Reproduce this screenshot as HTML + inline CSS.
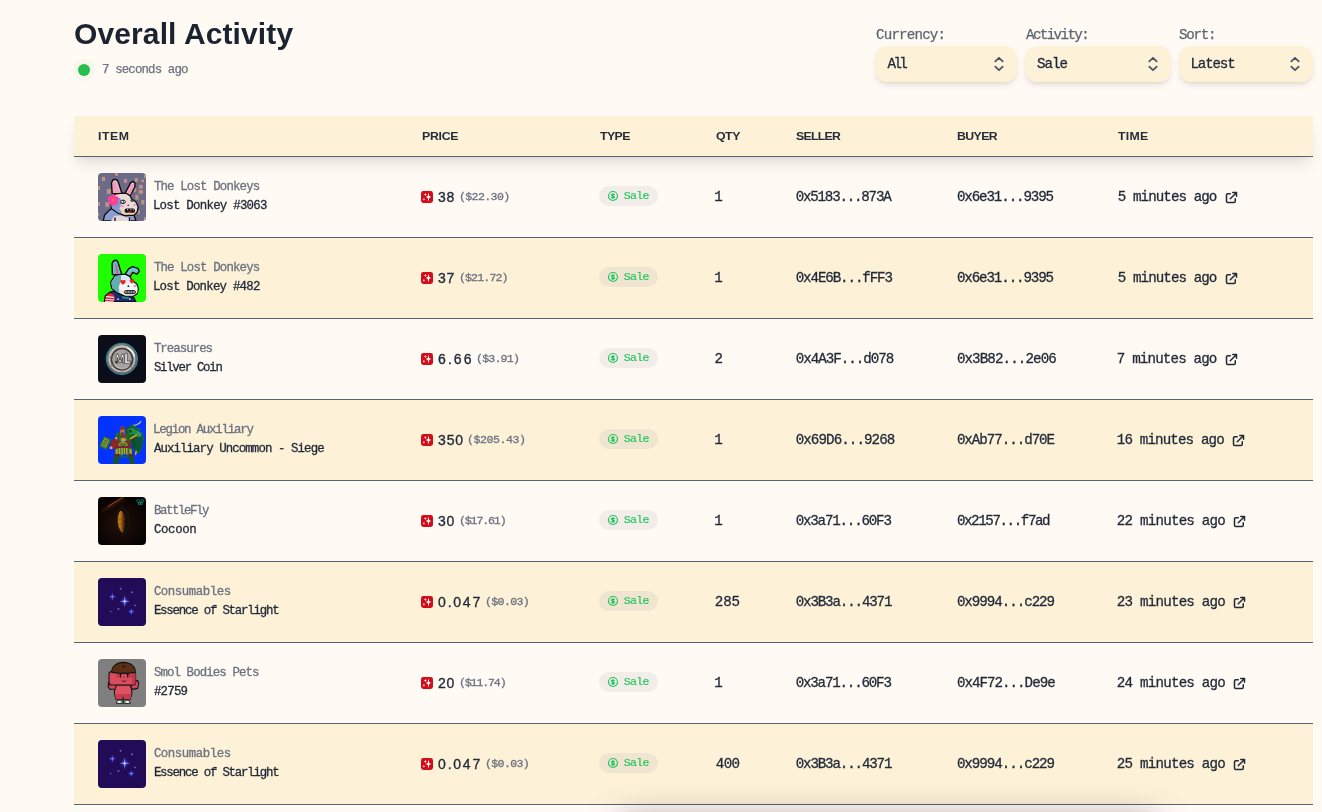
<!DOCTYPE html>
<html lang="en">
<head>
<meta charset="utf-8">
<title>Overall Activity</title>
<style>
*{box-sizing:border-box;margin:0;padding:0}
html,body{width:1322px;height:812px;overflow:hidden;background:#fffaf3;font-family:"Liberation Sans",sans-serif;color:#1f2937}
body{position:relative}
h1,.abs,.sel,.thead,.row{will-change:transform}
.abs{position:absolute;white-space:nowrap}
h1{position:absolute;left:73.6px;top:16.400px;font-size:30px;line-height:36px;font-weight:700;color:#1b2230;letter-spacing:.12px}
.halo{position:absolute;left:73px;top:58.500px;width:22px;height:22px;border-radius:50%;background:rgba(52,190,80,.045)}
.dot{position:absolute;left:78px;top:63.500px;width:12px;height:12px;border-radius:50%;background:#2bbd4c}
.ago{font-family:"Liberation Mono",monospace;font-size:12.400px;line-height:16px;color:#6b7280;-webkit-text-stroke:.25px currentColor}
.lbl{font-family:"Liberation Mono",monospace;font-size:14.200px;line-height:20px;color:#5b6472;-webkit-text-stroke:.25px currentColor}
.sel{position:absolute;top:46px;height:36px;border-radius:12px;background:#fdf1d8;box-shadow:0 4px 6px -1px rgba(0,0,0,.10),0 2px 4px -1px rgba(0,0,0,.06)}
.sel span{position:absolute;font-family:"Liberation Mono",monospace;font-size:14.200px;line-height:20px;color:#1f2937;white-space:nowrap;-webkit-text-stroke:.3px currentColor}
.sel svg{position:absolute;right:8px;top:8px;width:20px;height:20px}
.thead{position:absolute;left:74px;top:116px;width:1239px;height:41px;background:#fdf1d8;border-bottom:1px solid #5a6170;box-shadow:0 10px 15px -3px rgba(0,0,0,.10),0 4px 6px -2px rgba(0,0,0,.05);z-index:2}
.thead span{position:absolute;font-size:11.500px;line-height:16px;font-weight:700;color:#262c38;white-space:nowrap}
.row{position:absolute;left:74px;width:1239px;height:81px;border-bottom:1px solid #5a6170}
.row.alt{background:#fdf1d8}
.row .img{position:absolute;left:24px;top:16px;width:48px;height:48px;border-radius:4px;overflow:hidden}
.row .img svg{display:block;width:48px;height:48px}
.row span{position:absolute;white-space:nowrap;font-family:"Liberation Mono",monospace;-webkit-text-stroke:.3px currentColor}
.col{font-size:12.400px;line-height:16px;color:#6b7280}
.nm{font-size:12.400px;line-height:16px;color:#1f2937}
.tok{position:absolute;left:347px;top:34px;width:12px;height:12px}
.pr{font-family:"Liberation Sans",sans-serif !important;font-size:14px;line-height:20px;color:#1f2937;-webkit-text-stroke:.35px currentColor !important}
.usd{font-size:11.600px;line-height:16px;color:#6b7280}
.badge{position:absolute;left:525px;top:29px;width:59px;height:20px;border-radius:10px;background:rgba(107,114,128,.09)}
.badge svg{position:absolute;left:8px;top:4px;width:12px;height:12px}
.badge span{font-size:11.600px;line-height:16px;color:#22c55e;-webkit-text-stroke:.15px #22c55e}
.q,.s,.b,.t{font-size:14.200px;line-height:20px;color:#1f2937}
.ext{position:absolute;top:32.500px;width:15px;height:15px}
.toast{position:absolute;left:622px;top:825px;width:532px;height:80px;border-radius:12px;background:#fff;box-shadow:0 0 34px 6px rgba(0,0,0,.36);z-index:5}
</style>
</head>
<body>
<h1>Overall Activity</h1>
<div class="halo"></div><div class="dot"></div>
<span class="abs ago" style="left:101.80px;top:61.80px;letter-spacing:-0.852px">7 seconds ago</span>
<span class="abs lbl" style="left:875.90px;top:25.42px;letter-spacing:-0.826px">Currency:</span>
<span class="abs lbl" style="left:1025.70px;top:25.42px;letter-spacing:-1.614px">Activity:</span>
<span class="abs lbl" style="left:1179.30px;top:25.42px;letter-spacing:-1.289px">Sort:</span>
<div class="sel" style="left:875px;width:142px"><span style="left:12.50px;top:8.22px;letter-spacing:-2.614px">All</span><svg viewBox="0 0 20 20" fill="none" stroke="#4b5563" stroke-width="1.800" stroke-linecap="round" stroke-linejoin="round"><path d="M6.300 7.300 10 3.800 13.700 7.300M6.300 12.700 10 16.200 13.700 12.700"/></svg></div>
<div class="sel" style="left:1025px;width:146px"><span style="left:12.10px;top:8.22px;letter-spacing:-1.081px">Sale</span><svg viewBox="0 0 20 20" fill="none" stroke="#4b5563" stroke-width="1.800" stroke-linecap="round" stroke-linejoin="round"><path d="M6.300 7.300 10 3.800 13.700 7.300M6.300 12.700 10 16.200 13.700 12.700"/></svg></div>
<div class="sel" style="left:1179px;width:134px"><span style="left:11.50px;top:8.22px;letter-spacing:-1.174px">Latest</span><svg viewBox="0 0 20 20" fill="none" stroke="#4b5563" stroke-width="1.800" stroke-linecap="round" stroke-linejoin="round"><path d="M6.300 7.300 10 3.800 13.700 7.300M6.300 12.700 10 16.200 13.700 12.700"/></svg></div>
<div class="thead"><span style="left:23.70px;top:12.31px;letter-spacing:0.507px;transform:scaleX(1.07);transform-origin:0 0">ITEM</span><span style="left:347.70px;top:12.31px;letter-spacing:-0.271px;transform:scaleX(1.07);transform-origin:0 0">PRICE</span><span style="left:525.80px;top:12.31px;letter-spacing:-0.527px;transform:scaleX(1.07);transform-origin:0 0">TYPE</span><span style="left:641.60px;top:12.31px;letter-spacing:-0.443px;transform:scaleX(1.07);transform-origin:0 0">QTY</span><span style="left:721.70px;top:12.31px;letter-spacing:-0.670px;transform:scaleX(1.07);transform-origin:0 0">SELLER</span><span style="left:883.00px;top:12.31px;letter-spacing:-0.541px;transform:scaleX(1.07);transform-origin:0 0">BUYER</span><span style="left:1043.70px;top:12.31px;letter-spacing:0.235px;transform:scaleX(1.07);transform-origin:0 0">TIME</span></div>

<div class="row" style="top:157px">
<div class="img"><svg viewBox="0 0 48 48"><rect width="48" height="48" fill="#6c6c88"/>
<g fill="#c29183"><rect x="3.9" y="3.9" width="3.1" height="4.1"/><rect x="17" y="0" width="3.1" height="2.8"/><rect x="26" y="6" width="3.1" height="3.8"/><rect x="36.7" y="5" width="3.1" height="3.8"/><rect x="43.2" y="6.7" width="2.8" height="2.4"/><rect x="40.8" y="11.9" width="4.1" height="3.8"/><rect x="40.8" y="17" width="4.1" height="3.8"/><rect x="8.8" y="16" width="4.1" height="4.8"/><rect x="37.4" y="21.9" width="3.1" height="4.8"/><rect x="43.2" y="27" width="3.1" height="4.5"/><rect x="7.4" y="29.1" width="3.8" height="4.8"/><rect x="0" y="12.9" width="2" height="4.1"/><rect x="0" y="29.1" width="2" height="3.8"/><rect x="35.7" y="15" width="2.4" height="3.8"/><rect x="39.1" y="37.4" width="2.8" height="3.4"/><rect x="46" y="2" width="2" height="3"/><rect x="46" y="44" width="2" height="3"/><rect x="0" y="40" width="1.2" height="3"/></g>
<path d="M14.2 20.6 13.5 9.600 15 6.800 18.200 6.400 20 8.200 24 20.600Z" fill="#ecb9cd" stroke="#0d0d0d" stroke-width="1.4" stroke-linejoin="round"/>
<path d="M15.600 19.600 15 9.800 17.800 8.800 21.600 19.800Z" fill="#f49cbc"/>
<path d="M27 20.400 32.600 9.800 35 8.400 37 10 36.800 14 32 23Z" fill="#ecb9cd" stroke="#0d0d0d" stroke-width="1.4" stroke-linejoin="round"/>
<path d="M29 20.400 33.400 10.800 35.600 11.400 32.600 21.600Z" fill="#f49cbc"/>
<path d="M5.2 48 6.6 42 12 36.6 14 35.5 20 40 27 42.5 36 42 38 48Z" fill="#8a9fd0" stroke="#0d0d0d" stroke-width="1.300" stroke-linejoin="round"/>
<path d="M13 48 16 43 22 42.5 30 44.5 33 48Z" fill="#e6d5d8"/>
<path d="M17 48v-3.5M31.5 48v-3.5" stroke="#0d0d0d" stroke-width="1.3"/>
<path d="M17 21.2 24 20.2 28 20.3 32 22.6 33.5 26 38 29 40.2 34 39.2 39 36 42 27 42.6 20 40 13.6 35.6 12.6 30Z" fill="#ecdad8" stroke="#0d0d0d" stroke-width="1.3" stroke-linejoin="round"/>
<path d="M13.6 28 22 24.5 24 30 21.4 35.5 24.5 40.4 20 39.6 14 35.2 13 30Z" fill="#809bcd"/>
<path d="M21.4 35.5 26 41 35.8 41.4 38.6 38.6 30 39.6Z" fill="#f3cfae"/>
<ellipse cx="25" cy="28.8" rx="2.3" ry="1.7" fill="#fff" stroke="#0d0d0d" stroke-width="1"/><circle cx="25.4" cy="28.9" r=".7" fill="#0d0d0d"/>
<path d="M32.5 27.6 35 28.6" stroke="#0d0d0d" stroke-width="1.1"/>
<circle cx="30.2" cy="32.2" r=".8" fill="#222"/><circle cx="36.3" cy="32" r=".7" fill="#6b7fae"/>
<ellipse cx="23.8" cy="33.2" rx="2.1" ry="1.1" fill="#f59ac8"/><ellipse cx="37.4" cy="31" rx="1" ry=".8" fill="#f59ac8"/>
<rect x="26.600" y="35.600" width="10.400" height="4.200" rx="1.900" fill="#101010"/><rect x="29.800" y="38.400" width="4" height="1.300" rx=".6" fill="#d4333a"/><path d="M29 36.200h1.200v1h-1.200zM32.400 36.200h1.200v1h-1.200zM35 36.400h1v.9h-1z" fill="#e9e4df"/>
<g fill="#ff3d9b"><circle cx="15.2" cy="27" r="3.4"/><circle cx="15.2" cy="23.6" r="2.3"/><circle cx="15.2" cy="30.4" r="2.3"/><circle cx="11.9" cy="25.6" r="2.3"/><circle cx="18.5" cy="25.6" r="2.3"/><circle cx="12.6" cy="29.4" r="2.3"/><circle cx="17.8" cy="29.4" r="2.3"/></g>
<circle cx="15" cy="26.9" r="1.1" fill="#f7931e"/></svg></div>
<span class="col" style="left:79.90px;top:21.80px;letter-spacing:-0.842px">The Lost Donkeys</span>
<span class="nm" style="left:78.90px;top:41.10px;letter-spacing:-0.742px">Lost Donkey #3063</span>
<svg class="tok" viewBox="0 0 12 12"><rect width="12" height="12" rx="2.400" fill="#d20c1a"/><path d="M7.450 1.600 8.150 4.950 10.100 6 8.150 7.050 7.450 10.400 6.750 7.050 4.800 6 6.750 4.950Z" fill="#fff"/><path d="M4.350 2.100 4.800 3.050 5.750 3.500 4.800 3.950 4.350 4.900 3.900 3.950 2.950 3.500 3.900 3.050Z" fill="#fff"/><path d="M2.900 6.900 3.350 7.850 4.300 8.300 3.350 8.750 2.900 9.700 2.450 8.750 1.500 8.300 2.450 7.850Z" fill="#fff" opacity=".85"/></svg>
<span class="pr" style="left:364.10px;top:29.95px;letter-spacing:0.514px">38</span>
<span class="usd" style="left:384.90px;top:32.01px;letter-spacing:-0.615px">($22.30)</span>
<div class="badge"><svg viewBox="0 0 24 24" fill="none" stroke="#22c55e" stroke-width="2.300" stroke-linecap="round" stroke-linejoin="round"><path d="M12 8c-1.657 0-3 .895-3 2s1.343 2 3 2 3 .895 3 2-1.343 2-3 2m0-8c1.110 0 2.080.402 2.599 1M12 8V7m0 1v8m0 0v1m0-1c-1.110 0-2.080-.402-2.599-1M21 12a9 9 0 11-18 0 9 9 0 0118 0z"/></svg><span style="left:24.80px;top:1.91px;letter-spacing:-0.724px">Sale</span></div>
<span class="q" style="left:640.30px;top:30.22px;letter-spacing:0.000px">1</span>
<span class="s" style="left:721.70px;top:30.22px;letter-spacing:-1.222px">0x5183...873A</span>
<span class="b" style="left:882.90px;top:30.22px;letter-spacing:-1.122px">0x6e31...9395</span>
<span class="t" style="left:1043.80px;top:30.22px;letter-spacing:-0.931px">5 minutes ago</span>
<svg class="ext" style="left:1149.8px" viewBox="0 0 24 24" fill="none" stroke="#1f2937" stroke-width="2.400" stroke-linecap="round" stroke-linejoin="round"><path d="M10 6H6a2 2 0 00-2 2v10a2 2 0 002 2h10a2 2 0 002-2v-4M14 4h6m0 0v6m0-6L10 14"/></svg>
</div>
<div class="row alt" style="top:238px">
<div class="img"><svg viewBox="0 0 48 48"><rect width="48" height="48" fill="#1eff00"/>
<path d="M14.4 20.6 14.1 9.4 15.6 6.8 18.4 6.3 19.8 7.8 23.8 20.6Z" fill="#63bccb" stroke="#0d0d0d" stroke-width="1.4" stroke-linejoin="round"/>
<path d="M17.3 10.4 18.4 10 20.6 20 18.6 20.4Z" fill="#e2566c"/>
<path d="M27 20.4 30.5 14.8 34.6 12.7 40 14.3 41.3 17.4 38.8 20.2 34.8 18.3 32 22.6Z" fill="#6ec4d1" stroke="#0d0d0d" stroke-width="1.4" stroke-linejoin="round"/>
<path d="M31 20.8 32.9 18 33.8 18.6 32 21.8Z" fill="#e2566c"/>
<path d="M6.4 48 7.2 42 11.5 38.4 16 36.8 27 42.4 35.5 43 38 48Z" fill="#1c2b6e" stroke="#0d0d0d" stroke-width="1.3" stroke-linejoin="round"/>
<path d="M6.8 48 7.6 42.2 11.6 39 15.6 40.6 17 44 15.4 48Z" fill="#e5243c"/>
<path d="M8 42.6 16 43.4M7.4 45.2 16.4 46M7.2 47.6 15.6 48" stroke="#f6e9ee" stroke-width="1.1"/>
<path d="M24 42 31 42.6 30.5 45 24.5 44.4Z" fill="#2c8c8a"/><circle cx="20" cy="45.2" r=".9" fill="#d9d9d9"/><circle cx="31.8" cy="45" r=".9" fill="#d9d9d9"/>
<path d="M17 21.4 24 20.3 28 20.4 32 22.6 34.4 26.8 39 30 40.3 35 39 40 35 42.2 27 42.2 20 39.2 13.6 34.2 12.7 28Z" fill="#d3edf2" stroke="#0d0d0d" stroke-width="1.3" stroke-linejoin="round"/>
<path d="M13.4 28.4 17.4 22 23 21.4 23 27 20.6 33 21.6 38.8 19.8 38.6 14.2 34.2Z" fill="#62aeb2"/>
<path d="M21.4 31 27 29.6 36 30 39.4 33 39.4 38.6 35 41.4 27 41.4 21.8 38.6Z" fill="#f6f6f6"/>
<path d="M21 35.6 26 40 36 40.2 38.8 38 30 39.2Z" fill="#f1cdb1"/>
<path d="M22.4 27.4c0-1.8 2.4-1.8 2.6-.4.2-1.4 2.6-1.4 2.6.4 0 1.600-2.600 3.200-2.600 3.200s-2.600-1.600-2.600-3.200z" fill="#ff1c1c"/>
<path d="M31.600 26.600c0-1.700 2.200-1.700 2.400-.4.200-1.300 2.400-1.300 2.400.4 0 1.500-2.400 3-2.400 3s-2.400-1.500-2.400-3z" fill="#ff1c1c"/>
<circle cx="30.400" cy="32.200" r=".9" fill="#222"/><circle cx="36.800" cy="32" r=".9" fill="#fff" stroke="#333" stroke-width=".4"/>
<rect x="26.600" y="36.600" width="10.800" height="3" rx="1.200" fill="#9a9a9a" stroke="#101010" stroke-width=".9"/>
<path d="M29.400 36.800v2.600M32 36.800v2.600M34.600 36.800v2.600" stroke="#101010" stroke-width=".6"/></svg></div>
<span class="col" style="left:79.90px;top:21.80px;letter-spacing:-0.842px">The Lost Donkeys</span>
<span class="nm" style="left:78.90px;top:41.10px;letter-spacing:-0.769px">Lost Donkey #482</span>
<svg class="tok" viewBox="0 0 12 12"><rect width="12" height="12" rx="2.400" fill="#d20c1a"/><path d="M7.450 1.600 8.150 4.950 10.100 6 8.150 7.050 7.450 10.400 6.750 7.050 4.800 6 6.750 4.950Z" fill="#fff"/><path d="M4.350 2.100 4.800 3.050 5.750 3.500 4.800 3.950 4.350 4.900 3.900 3.950 2.950 3.500 3.900 3.050Z" fill="#fff"/><path d="M2.900 6.900 3.350 7.850 4.300 8.300 3.350 8.750 2.900 9.700 2.450 8.750 1.500 8.300 2.450 7.850Z" fill="#fff" opacity=".85"/></svg>
<span class="pr" style="left:364.10px;top:29.95px;letter-spacing:0.514px">37</span>
<span class="usd" style="left:384.90px;top:32.01px;letter-spacing:-0.857px">($21.72)</span>
<div class="badge"><svg viewBox="0 0 24 24" fill="none" stroke="#22c55e" stroke-width="2.300" stroke-linecap="round" stroke-linejoin="round"><path d="M12 8c-1.657 0-3 .895-3 2s1.343 2 3 2 3 .895 3 2-1.343 2-3 2m0-8c1.110 0 2.080.402 2.599 1M12 8V7m0 1v8m0 0v1m0-1c-1.110 0-2.080-.402-2.599-1M21 12a9 9 0 11-18 0 9 9 0 0118 0z"/></svg><span style="left:24.80px;top:1.91px;letter-spacing:-0.724px">Sale</span></div>
<span class="q" style="left:640.30px;top:30.22px;letter-spacing:0.000px">1</span>
<span class="s" style="left:721.70px;top:30.22px;letter-spacing:-1.114px">0x4E6B...fFF3</span>
<span class="b" style="left:882.90px;top:30.22px;letter-spacing:-1.122px">0x6e31...9395</span>
<span class="t" style="left:1043.80px;top:30.22px;letter-spacing:-0.931px">5 minutes ago</span>
<svg class="ext" style="left:1149.8px" viewBox="0 0 24 24" fill="none" stroke="#1f2937" stroke-width="2.400" stroke-linecap="round" stroke-linejoin="round"><path d="M10 6H6a2 2 0 00-2 2v10a2 2 0 002 2h10a2 2 0 002-2v-4M14 4h6m0 0v6m0-6L10 14"/></svg>
</div>
<div class="row" style="top:319px">
<div class="img"><svg viewBox="0 0 48 48"><defs><radialGradient id="cg" cx=".42" cy=".38" r=".75"><stop offset="0" stop-color="#d6d5d4"/><stop offset=".55" stop-color="#aaa6a3"/><stop offset="1" stop-color="#7b7571"/></radialGradient></defs>
<rect width="48" height="48" fill="#0b0e19"/>
<circle cx="23.900" cy="23.900" r="16.100" fill="#103040"/><circle cx="23.900" cy="23.900" r="15.700" fill="none" stroke="#2f9cba" stroke-width=".9"/>
<circle cx="23.900" cy="23.900" r="14.800" fill="url(#cg)"/>
<circle cx="23.900" cy="23.900" r="14.300" fill="none" stroke="#6f6762" stroke-width=".9"/>
<circle cx="23.900" cy="23.900" r="12.600" fill="none" stroke="#c9c4c0" stroke-width="1.100"/>
<circle cx="24" cy="24.200" r="10.600" fill="#a5a2a0" stroke="#3f3b39" stroke-width="1.500"/><path d="M15 27a9.600 9.600 0 0 0 17 3.600A12 12 0 0 1 15 27Z" fill="#c4c1bf" opacity=".7"/>
<path d="M29 12.600A12.600 12.600 0 0 1 36.300 21.600" fill="none" stroke="#fafafa" stroke-width="1.500"/>
<path d="M11.400 22.400 15.200 21.600M23.900 34.900v3.400M12.600 30.400l3-1.500M33 31.600l2.200 2" stroke="#6b625e" stroke-width=".9"/>
<path d="M18.200 19.400 20 19 22 25.400 24 19 25.900 19.400 26 28 24.500 28 24.400 22.400 22.700 27.600 21.300 27.600 19.500 22.400 19.600 28 18 28Z" fill="#f3f3f3" stroke="#2e2b2a" stroke-width=".7" stroke-linejoin="round"/>
<path d="M26.800 18.400 29.200 18.200 29.200 26.200 32.600 26 32.600 28.200 26.800 28.400Z" fill="#f6f6f6" stroke="#2e2b2a" stroke-width=".7" stroke-linejoin="round"/>
<rect x="17.300" y="25.900" width="2.300" height="2.300" transform="rotate(45 18.450 27.050)" fill="#3e3a38"/></svg></div>
<span class="col" style="left:79.90px;top:21.80px;letter-spacing:-0.973px">Treasures</span>
<span class="nm" style="left:79.90px;top:41.10px;letter-spacing:-1.286px">Silver Coin</span>
<svg class="tok" viewBox="0 0 12 12"><rect width="12" height="12" rx="2.400" fill="#d20c1a"/><path d="M7.450 1.600 8.150 4.950 10.100 6 8.150 7.050 7.450 10.400 6.750 7.050 4.800 6 6.750 4.950Z" fill="#fff"/><path d="M4.350 2.100 4.800 3.050 5.750 3.500 4.800 3.950 4.350 4.900 3.900 3.950 2.950 3.500 3.900 3.050Z" fill="#fff"/><path d="M2.900 6.900 3.350 7.850 4.300 8.300 3.350 8.750 2.900 9.700 2.450 8.750 1.500 8.300 2.450 7.850Z" fill="#fff" opacity=".85"/></svg>
<span class="pr" style="left:364.10px;top:29.95px;letter-spacing:2.046px">6.66</span>
<span class="usd" style="left:402.00px;top:32.01px;letter-spacing:-0.807px">($3.91)</span>
<div class="badge"><svg viewBox="0 0 24 24" fill="none" stroke="#22c55e" stroke-width="2.300" stroke-linecap="round" stroke-linejoin="round"><path d="M12 8c-1.657 0-3 .895-3 2s1.343 2 3 2 3 .895 3 2-1.343 2-3 2m0-8c1.110 0 2.080.402 2.599 1M12 8V7m0 1v8m0 0v1m0-1c-1.110 0-2.080-.402-2.599-1M21 12a9 9 0 11-18 0 9 9 0 0118 0z"/></svg><span style="left:24.80px;top:1.91px;letter-spacing:-0.724px">Sale</span></div>
<span class="q" style="left:640.50px;top:30.22px;letter-spacing:0.000px">2</span>
<span class="s" style="left:721.70px;top:30.22px;letter-spacing:-1.014px">0x4A3F...d078</span>
<span class="b" style="left:882.90px;top:30.22px;letter-spacing:-0.897px">0x3B82...2e06</span>
<span class="t" style="left:1042.80px;top:30.22px;letter-spacing:-0.847px">7 minutes ago</span>
<svg class="ext" style="left:1149.8px" viewBox="0 0 24 24" fill="none" stroke="#1f2937" stroke-width="2.400" stroke-linecap="round" stroke-linejoin="round"><path d="M10 6H6a2 2 0 00-2 2v10a2 2 0 002 2h10a2 2 0 002-2v-4M14 4h6m0 0v6m0-6L10 14"/></svg>
</div>
<div class="row alt" style="top:400px">
<div class="img"><svg viewBox="0 0 48 48"><rect width="48" height="48" fill="#0433ff"/>
<path d="M36 9.400C39 8.800 41.600 7.600 42.900 5.400" fill="none" stroke="#c9b98c" stroke-width="1.100" stroke-linecap="round"/>
<path d="M33 9.600 34.400 7.400 35.600 10.400 38.400 9.600 38.600 12.600 42.400 12.600 42 15.600 45.600 17.400 44 19.600 46.600 22.600 44.800 24Z" fill="#1a7439"/>
<path d="M28 12.400 33 9.600 36.400 11 41 14.600 44.800 19 45.400 26 44 32 41.800 36.400 39.600 38.200 37 36.600 34.400 30 31 24 28 20Z" fill="#14602c"/>
<path d="M30.400 13 34.800 11.800 39 15 42 19.600 41 22 36 18 31 18.600Z" fill="#238a49"/>
<path d="M37.600 14.600 41.800 16 43.600 19.400 42.600 21 39.600 17.600Z" fill="#2a9a86"/>
<path d="M38 22 42.800 21 44 27 42.600 32 40 35 38 30Z" fill="#0b5040"/>
<path d="M33 22 36 21 38 28 37 34 35 31Z" fill="#0d4a22"/>
<path d="M31 14.600 33 13.600 33.600 16 32 17Z" fill="#0a3a1a"/>
<path d="M27.600 18 31 22.400 38.600 18 39.600 19.200 31.400 24.400 27 20Z" fill="#c9a51e"/>
<path d="M38.200 35.400 37.600 38.400" stroke="#e0a23c" stroke-width="1.500" stroke-linecap="round"/>
<path d="M6.300 20 13.300 23.600 8.400 34 1.300 30.400Z" fill="#256f27"/><path d="M6.900 22.200 10.900 24.300 7.700 31.300 3.500 29.300Z" fill="#2f8a30" stroke="#b8952a" stroke-width="1"/>
<path d="M8.400 25.200 6.400 29.200" stroke="#b8952a" stroke-width=".9"/>
<path d="M12.800 27.400 17.400 21.600" stroke="#6b4220" stroke-width="1.300"/>
<path d="M17 18 21.400 16 22.600 21 19 24Z" fill="#1c6e28"/>
<path d="M13 26 17.600 22.600 20 26 18.600 32 14 33.400 12.400 30Z" fill="#8f2420"/><circle cx="13" cy="31.800" r="1.500" fill="#d6a37c"/>
<path d="M18 22 21.400 24.400" stroke="#d9b18c" stroke-width="1.800" stroke-linecap="round"/>
<path d="M20.400 19.600 24 18 29.400 19.200 33 24 32 31 19.400 31 18.400 25Z" fill="#7e2b24"/>
<path d="M21 20 24 18.600 24.600 24 21.600 26 20 24Z" fill="#236f2a"/><path d="M27.600 19 30.600 20.600 32.400 24 30 26 27.400 23Z" fill="#236f2a"/>
<path d="M22.600 22.400 26.600 21.600 28.600 24 26 26 23 25.400Z" fill="#c98f6c"/>
<circle cx="25.600" cy="25.400" r="1" fill="#2aa7a0"/>
<ellipse cx="25" cy="28.600" rx="4.400" ry="1.900" fill="#27802a" stroke="#c9a51e" stroke-width="1"/>
<rect x="18.800" y="30" width="14.400" height="1.800" fill="#8f1f1f"/>
<path d="M22.400 11 25.600 10.600 27 13 26.600 18.400 24.400 20 22.400 18.400 21.800 14Z" fill="#b36f4c"/>
<path d="M22 11.600 24.400 10.400 27 11.400 27 14 24.400 13.200 22.200 14.400Z" fill="#7e3314"/>
<path d="M23 16.400 26 16.400 25.600 19.200 24.300 20 23.200 19Z" fill="#74321a"/>
<path d="M17.600 32 33.800 32 34.200 38.200 30 39 27 37.600 24 39.400 20 38 17 38.600Z" fill="#266e27"/>
<path d="M21.600 32v6M24 32v7M26.400 32v6M28.800 32v6.400" stroke="#bfa640" stroke-width="1.400"/>
<path d="M17.400 33.600 20 32.400 20.600 37.400 17.600 38.200ZM31.400 32.400 33.800 33.600 34 38 31.200 37.400Z" fill="#b8952a"/>
<path d="M15.800 38.400 21 38 21.400 42 20.600 47.400 14.400 47.600 15.800 44ZM30.600 38 35.200 38.600 36.800 47.600 31.400 47.600 31 42Z" fill="#18541f"/>
<path d="M16.400 38.800 20.600 38.400 20.400 40.400 16.600 40.600ZM30.800 38.600 34.800 39 35 40.800 31 40.600Z" fill="#7e1c1c"/>
<path d="M22 39 24 41.600 27 39.600 29.600 41 30 38.600" fill="none" stroke="#1f6a25" stroke-width="1.200"/></svg></div>
<span class="col" style="left:78.90px;top:21.80px;letter-spacing:-1.189px">Legion Auxiliary</span>
<span class="nm" style="left:79.90px;top:41.10px;letter-spacing:-0.904px">Auxiliary Uncommon - Siege</span>
<svg class="tok" viewBox="0 0 12 12"><rect width="12" height="12" rx="2.400" fill="#d20c1a"/><path d="M7.450 1.600 8.150 4.950 10.100 6 8.150 7.050 7.450 10.400 6.750 7.050 4.800 6 6.750 4.950Z" fill="#fff"/><path d="M4.350 2.100 4.800 3.050 5.750 3.500 4.800 3.950 4.350 4.900 3.900 3.950 2.950 3.500 3.900 3.050Z" fill="#fff"/><path d="M2.900 6.900 3.350 7.850 4.300 8.300 3.350 8.750 2.900 9.700 2.450 8.750 1.500 8.300 2.450 7.850Z" fill="#fff" opacity=".85"/></svg>
<span class="pr" style="left:364.10px;top:29.95px;letter-spacing:0.814px">350</span>
<span class="usd" style="left:392.90px;top:32.01px;letter-spacing:-0.445px">($205.43)</span>
<div class="badge"><svg viewBox="0 0 24 24" fill="none" stroke="#22c55e" stroke-width="2.300" stroke-linecap="round" stroke-linejoin="round"><path d="M12 8c-1.657 0-3 .895-3 2s1.343 2 3 2 3 .895 3 2-1.343 2-3 2m0-8c1.110 0 2.080.402 2.599 1M12 8V7m0 1v8m0 0v1m0-1c-1.110 0-2.080-.402-2.599-1M21 12a9 9 0 11-18 0 9 9 0 0118 0z"/></svg><span style="left:24.80px;top:1.91px;letter-spacing:-0.724px">Sale</span></div>
<span class="q" style="left:640.30px;top:30.22px;letter-spacing:0.000px">1</span>
<span class="s" style="left:721.70px;top:30.22px;letter-spacing:-0.922px">0x69D6...9268</span>
<span class="b" style="left:882.90px;top:30.22px;letter-spacing:-1.039px">0xAb77...d70E</span>
<span class="t" style="left:1042.80px;top:30.22px;letter-spacing:-0.868px">16 minutes ago</span>
<svg class="ext" style="left:1157.2px" viewBox="0 0 24 24" fill="none" stroke="#1f2937" stroke-width="2.400" stroke-linecap="round" stroke-linejoin="round"><path d="M10 6H6a2 2 0 00-2 2v10a2 2 0 002 2h10a2 2 0 002-2v-4M14 4h6m0 0v6m0-6L10 14"/></svg>
</div>
<div class="row" style="top:481px">
<div class="img"><svg viewBox="0 0 48 48"><defs><radialGradient id="cb" cx=".46" cy=".55" r=".62"><stop offset="0" stop-color="#241007"/><stop offset=".55" stop-color="#130805"/><stop offset="1" stop-color="#050303"/></radialGradient>
<linearGradient id="cc" x1="0" y1="0" x2="1" y2="0"><stop offset="0" stop-color="#a8661c"/><stop offset=".35" stop-color="#c27a20"/><stop offset=".6" stop-color="#8a4c12"/><stop offset="1" stop-color="#2e1605"/></linearGradient>
<filter id="cf" x="-20%" y="-20%" width="140%" height="140%"><feGaussianBlur stdDeviation=".55"/></filter></defs>
<rect width="48" height="48" fill="url(#cb)"/>
<path d="M26 -1 6 11 3 16 14 11 27 3Z" fill="#3a1a0a" opacity=".55" filter="url(#cf)"/><g filter="url(#cf)"><path d="M24.600 .6 10 9.400" stroke="#a3481a" stroke-width="1.200" stroke-linecap="round" opacity=".8"/><path d="M10 9.400 3 13.200" stroke="#2e1b0e" stroke-width="1.200" opacity=".7"/>
<path d="M24.200 1 24 11" stroke="#26140a" stroke-width=".7"/>
<g transform="translate(24 24.600) scale(1.220 1.100) translate(-24 -25)"><path d="M24 12C27.600 13.800 29.800 18.400 29.600 25 29.400 31.600 27.400 36.400 25.300 38.200 21.800 35.600 19 30 19 23.800 19 18.200 21.200 13.800 24 12Z" fill="#120f09" stroke="#1f1d0d" stroke-width=".5"/>
<path d="M23 15C25.400 16.400 26.600 20 26.400 24.600 26.200 30 25.400 34 24.400 35.400 22.200 33 20.400 29 20.400 24 20.400 19.400 21.400 16.400 23 15Z" fill="url(#cc)"/>
<path d="M20.600 22.600h5.800M20.900 27.400h5.300M22 31.800h3.600" stroke="#7a3f10" stroke-width=".5" opacity=".8"/></g></g>
<g fill="none" stroke="#178f80" stroke-width=".9" filter="url(#cf)"><path d="M42.200 4.400c-1-2.300-3.800-2.300-3 0 .4 1.300 2.100 1.100 3 .9.700 1.400-.2 2.600-1.600 2.300-1-.4-.7-1.800 1.600-2.300M42.400 4.400c1-2.300 3.800-2.300 3 0-.4 1.300-2.100 1.100-3 .9-.7 1.400.2 2.600 1.600 2.300 1-.4.700-1.800-1.600-2.300"/></g></svg></div>
<span class="col" style="left:79.90px;top:21.80px;letter-spacing:-1.436px">BattleFly</span>
<span class="nm" style="left:79.90px;top:41.10px;letter-spacing:-0.356px">Cocoon</span>
<svg class="tok" viewBox="0 0 12 12"><rect width="12" height="12" rx="2.400" fill="#d20c1a"/><path d="M7.450 1.600 8.150 4.950 10.100 6 8.150 7.050 7.450 10.400 6.750 7.050 4.800 6 6.750 4.950Z" fill="#fff"/><path d="M4.350 2.100 4.800 3.050 5.750 3.500 4.800 3.950 4.350 4.900 3.900 3.950 2.950 3.500 3.900 3.050Z" fill="#fff"/><path d="M2.900 6.900 3.350 7.850 4.300 8.300 3.350 8.750 2.900 9.700 2.450 8.750 1.500 8.300 2.450 7.850Z" fill="#fff" opacity=".85"/></svg>
<span class="pr" style="left:364.10px;top:29.95px;letter-spacing:0.514px">30</span>
<span class="usd" style="left:384.90px;top:32.01px;letter-spacing:-1.129px">($17.61)</span>
<div class="badge"><svg viewBox="0 0 24 24" fill="none" stroke="#22c55e" stroke-width="2.300" stroke-linecap="round" stroke-linejoin="round"><path d="M12 8c-1.657 0-3 .895-3 2s1.343 2 3 2 3 .895 3 2-1.343 2-3 2m0-8c1.110 0 2.080.402 2.599 1M12 8V7m0 1v8m0 0v1m0-1c-1.110 0-2.080-.402-2.599-1M21 12a9 9 0 11-18 0 9 9 0 0118 0z"/></svg><span style="left:24.80px;top:1.91px;letter-spacing:-0.724px">Sale</span></div>
<span class="q" style="left:640.30px;top:30.22px;letter-spacing:0.000px">1</span>
<span class="s" style="left:721.70px;top:30.22px;letter-spacing:-1.206px">0x3a71...60F3</span>
<span class="b" style="left:882.90px;top:30.22px;letter-spacing:-1.414px">0x2157...f7ad</span>
<span class="t" style="left:1042.80px;top:30.22px;letter-spacing:-0.783px">22 minutes ago</span>
<svg class="ext" style="left:1158.3px" viewBox="0 0 24 24" fill="none" stroke="#1f2937" stroke-width="2.400" stroke-linecap="round" stroke-linejoin="round"><path d="M10 6H6a2 2 0 00-2 2v10a2 2 0 002 2h10a2 2 0 002-2v-4M14 4h6m0 0v6m0-6L10 14"/></svg>
</div>
<div class="row alt" style="top:562px">
<div class="img"><svg viewBox="0 0 48 48"><defs><radialGradient id="ga"><stop offset="0" stop-color="#5a7dff" stop-opacity=".9"/><stop offset=".5" stop-color="#3a3ad6" stop-opacity=".45"/><stop offset="1" stop-color="#2a149a" stop-opacity="0"/></radialGradient></defs>
<rect width="48" height="48" fill="#220b57"/>
<circle cx="26.700" cy="23.300" r="5.200" fill="url(#ga)"/><circle cx="14.400" cy="18.800" r="3.800" fill="url(#ga)" opacity=".8"/><circle cx="33.300" cy="33.600" r="3.600" fill="url(#ga)"/>
<path d="M26.7 16.9 L27.53 22.28 L31.9 23.3 L27.53 24.32 L26.7 29.700000000000003 L25.87 24.32 L21.5 23.3 L25.87 22.28Z" fill="#7f8ff5" opacity="0.8"/><path d="M26.7 20.900000000000002 L27.00 22.92 L28.599999999999998 23.3 L27.00 23.68 L26.7 25.7 L26.40 23.68 L24.8 23.3 L26.40 22.92Z" fill="#f4f6ff" opacity="1"/><path d="M14.4 14.200000000000001 L15.01 18.06 L18.2 18.8 L15.01 19.54 L14.4 23.4 L13.79 19.54 L10.600000000000001 18.8 L13.79 18.06Z" fill="#5f64d8" opacity="0.8"/><path d="M14.4 17.400000000000002 L14.59 18.58 L15.6 18.8 L14.59 19.02 L14.4 20.2 L14.21 19.02 L13.200000000000001 18.8 L14.21 18.58Z" fill="#aab6ff" opacity="1"/><path d="M33.3 30.200000000000003 L33.81 33.06 L36.5 33.6 L33.81 34.14 L33.3 37.0 L32.79 34.14 L30.099999999999998 33.6 L32.79 33.06Z" fill="#456af0" opacity="0.9"/><path d="M33.3 32.4 L33.48 33.41 L34.4 33.6 L33.48 33.79 L33.3 34.800000000000004 L33.12 33.79 L32.199999999999996 33.6 L33.12 33.41Z" fill="#c4d0ff" opacity="1"/>
<g fill="#7d55c4"><circle cx="22.600" cy="10.700" r="1"/><circle cx="34.100" cy="14.300" r="1"/><circle cx="37" cy="27.400" r=".9"/><circle cx="20.400" cy="31" r="1.100"/><circle cx="12.800" cy="33.600" r=".8"/></g></svg></div>
<span class="col" style="left:79.90px;top:21.80px;letter-spacing:-0.456px">Consumables</span>
<span class="nm" style="left:79.90px;top:41.10px;letter-spacing:-1.209px">Essence of Starlight</span>
<svg class="tok" viewBox="0 0 12 12"><rect width="12" height="12" rx="2.400" fill="#d20c1a"/><path d="M7.450 1.600 8.150 4.950 10.100 6 8.150 7.050 7.450 10.400 6.750 7.050 4.800 6 6.750 4.950Z" fill="#fff"/><path d="M4.350 2.100 4.800 3.050 5.750 3.500 4.800 3.950 4.350 4.900 3.900 3.950 2.950 3.500 3.900 3.050Z" fill="#fff"/><path d="M2.900 6.900 3.350 7.850 4.300 8.300 3.350 8.750 2.900 9.700 2.450 8.750 1.500 8.300 2.450 7.850Z" fill="#fff" opacity=".85"/></svg>
<span class="pr" style="left:364.10px;top:29.95px;letter-spacing:1.763px">0.047</span>
<span class="usd" style="left:411.00px;top:32.01px;letter-spacing:-0.657px">($0.03)</span>
<div class="badge"><svg viewBox="0 0 24 24" fill="none" stroke="#22c55e" stroke-width="2.300" stroke-linecap="round" stroke-linejoin="round"><path d="M12 8c-1.657 0-3 .895-3 2s1.343 2 3 2 3 .895 3 2-1.343 2-3 2m0-8c1.110 0 2.080.402 2.599 1M12 8V7m0 1v8m0 0v1m0-1c-1.110 0-2.080-.402-2.599-1M21 12a9 9 0 11-18 0 9 9 0 0118 0z"/></svg><span style="left:24.80px;top:1.91px;letter-spacing:-0.724px">Sale</span></div>
<span class="q" style="left:640.80px;top:30.22px;letter-spacing:-0.164px">285</span>
<span class="s" style="left:721.70px;top:30.22px;letter-spacing:-1.156px">0x3B3a...4371</span>
<span class="b" style="left:882.90px;top:30.22px;letter-spacing:-1.039px">0x9994...c229</span>
<span class="t" style="left:1042.80px;top:30.22px;letter-spacing:-0.783px">23 minutes ago</span>
<svg class="ext" style="left:1158.3px" viewBox="0 0 24 24" fill="none" stroke="#1f2937" stroke-width="2.400" stroke-linecap="round" stroke-linejoin="round"><path d="M10 6H6a2 2 0 00-2 2v10a2 2 0 002 2h10a2 2 0 002-2v-4M14 4h6m0 0v6m0-6L10 14"/></svg>
</div>
<div class="row" style="top:643px">
<div class="img"><svg viewBox="0 0 48 48"><rect width="48" height="48" fill="#7f7f7f"/>
<path d="M17 26 32.800 26 34 34 32.400 40.400 17.800 40.400 16.400 34Z" fill="#dc5263" stroke="#141414" stroke-width="1.100" stroke-linejoin="round"/>
<path d="M16.800 35 33.600 35 32.400 40.400 17.800 40.400Z" fill="#c53b4f"/>
<path d="M25.100 38v3" stroke="#141414" stroke-width="1"/>
<path d="M10.600 23.400 14.400 22.600 18 26.400 17.400 30 12 30.400 10.200 28Z" fill="#d4475a" stroke="#141414" stroke-width="1.100" stroke-linejoin="round"/>
<path d="M33.400 26 37 22 39.800 21.600 40.800 24 39.600 29.400 35 30.400 33 28.600Z" fill="#d4475a" stroke="#141414" stroke-width="1.100" stroke-linejoin="round"/>
<rect x="11" y="12.600" width="26.600" height="13.400" rx="2.600" fill="#d94c5d" stroke="#141414" stroke-width="1.100"/>
<path d="M34 13.400h2.400a1.500 1.500 0 0 1 1.200 1.600v9a1.500 1.500 0 0 1-1.200 1.400H34Z" fill="#bf384c"/>
<ellipse cx="20.600" cy="17" rx="2.600" ry="1.600" fill="#bf3448"/><ellipse cx="31.600" cy="17" rx="2.600" ry="1.600" fill="#bf3448"/>
<path d="M21.400 15.400h2.400M22.600 15.400v3.200M28.400 15.400h2.400M29.600 15.400v3.200" stroke="#141414" stroke-width="1"/>
<path d="M25 18.200h2" stroke="#8f2233" stroke-width=".9"/>
<path d="M24.200 21.400c.6 1.500 3 1.500 3.600 0" fill="none" stroke="#141414" stroke-width=".9"/>
<path d="M13.800 13.400C13.400 8 18 3.600 25.600 3.400 33 3.600 37.800 8 37.200 13.400 30 14.600 21 14.600 13.800 13.400Z" fill="#5b2e16" stroke="#141414" stroke-width="1.100" stroke-linejoin="round"/>
<circle cx="25.600" cy="7.400" r="1.200" fill="#2a140a"/>
<path d="M18.400 44.400 19.600 41.200 24.800 41.200 24.800 44.400ZM25.600 41.200 30.800 41.200 32.400 44.400 25.600 44.400Z" fill="#f7f7f7" stroke="#141414" stroke-width=".9" stroke-linejoin="round"/>
<rect x="22.800" y="41.800" width="1.600" height="2" fill="#2f9e44"/><rect x="26" y="41.800" width="1.600" height="2" fill="#2f9e44"/></svg></div>
<span class="col" style="left:79.90px;top:21.80px;letter-spacing:-0.889px">Smol Bodies Pets</span>
<span class="nm" style="left:79.90px;top:41.10px;letter-spacing:-0.761px">#2759</span>
<svg class="tok" viewBox="0 0 12 12"><rect width="12" height="12" rx="2.400" fill="#d20c1a"/><path d="M7.450 1.600 8.150 4.950 10.100 6 8.150 7.050 7.450 10.400 6.750 7.050 4.800 6 6.750 4.950Z" fill="#fff"/><path d="M4.350 2.100 4.800 3.050 5.750 3.500 4.800 3.950 4.350 4.900 3.900 3.950 2.950 3.500 3.900 3.050Z" fill="#fff"/><path d="M2.900 6.900 3.350 7.850 4.300 8.300 3.350 8.750 2.900 9.700 2.450 8.750 1.500 8.300 2.450 7.850Z" fill="#fff" opacity=".85"/></svg>
<span class="pr" style="left:364.10px;top:29.95px;letter-spacing:0.514px">20</span>
<span class="usd" style="left:384.90px;top:32.01px;letter-spacing:-1.129px">($11.74)</span>
<div class="badge"><svg viewBox="0 0 24 24" fill="none" stroke="#22c55e" stroke-width="2.300" stroke-linecap="round" stroke-linejoin="round"><path d="M12 8c-1.657 0-3 .895-3 2s1.343 2 3 2 3 .895 3 2-1.343 2-3 2m0-8c1.110 0 2.080.402 2.599 1M12 8V7m0 1v8m0 0v1m0-1c-1.110 0-2.080-.402-2.599-1M21 12a9 9 0 11-18 0 9 9 0 0118 0z"/></svg><span style="left:24.80px;top:1.91px;letter-spacing:-0.724px">Sale</span></div>
<span class="q" style="left:640.30px;top:30.22px;letter-spacing:0.000px">1</span>
<span class="s" style="left:721.70px;top:30.22px;letter-spacing:-1.206px">0x3a71...60F3</span>
<span class="b" style="left:882.90px;top:30.22px;letter-spacing:-0.989px">0x4F72...De9e</span>
<span class="t" style="left:1042.80px;top:30.22px;letter-spacing:-0.783px">24 minutes ago</span>
<svg class="ext" style="left:1158.3px" viewBox="0 0 24 24" fill="none" stroke="#1f2937" stroke-width="2.400" stroke-linecap="round" stroke-linejoin="round"><path d="M10 6H6a2 2 0 00-2 2v10a2 2 0 002 2h10a2 2 0 002-2v-4M14 4h6m0 0v6m0-6L10 14"/></svg>
</div>
<div class="row alt" style="top:724px">
<div class="img"><svg viewBox="0 0 48 48"><defs><radialGradient id="gb"><stop offset="0" stop-color="#5a7dff" stop-opacity=".9"/><stop offset=".5" stop-color="#3a3ad6" stop-opacity=".45"/><stop offset="1" stop-color="#2a149a" stop-opacity="0"/></radialGradient></defs>
<rect width="48" height="48" fill="#220b57"/>
<circle cx="26.700" cy="23.300" r="5.200" fill="url(#gb)"/><circle cx="14.400" cy="18.800" r="3.800" fill="url(#gb)" opacity=".8"/><circle cx="33.300" cy="33.600" r="3.600" fill="url(#gb)"/>
<path d="M26.7 16.9 L27.53 22.28 L31.9 23.3 L27.53 24.32 L26.7 29.700000000000003 L25.87 24.32 L21.5 23.3 L25.87 22.28Z" fill="#7f8ff5" opacity="0.8"/><path d="M26.7 20.900000000000002 L27.00 22.92 L28.599999999999998 23.3 L27.00 23.68 L26.7 25.7 L26.40 23.68 L24.8 23.3 L26.40 22.92Z" fill="#f4f6ff" opacity="1"/><path d="M14.4 14.200000000000001 L15.01 18.06 L18.2 18.8 L15.01 19.54 L14.4 23.4 L13.79 19.54 L10.600000000000001 18.8 L13.79 18.06Z" fill="#5f64d8" opacity="0.8"/><path d="M14.4 17.400000000000002 L14.59 18.58 L15.6 18.8 L14.59 19.02 L14.4 20.2 L14.21 19.02 L13.200000000000001 18.8 L14.21 18.58Z" fill="#aab6ff" opacity="1"/><path d="M33.3 30.200000000000003 L33.81 33.06 L36.5 33.6 L33.81 34.14 L33.3 37.0 L32.79 34.14 L30.099999999999998 33.6 L32.79 33.06Z" fill="#456af0" opacity="0.9"/><path d="M33.3 32.4 L33.48 33.41 L34.4 33.6 L33.48 33.79 L33.3 34.800000000000004 L33.12 33.79 L32.199999999999996 33.6 L33.12 33.41Z" fill="#c4d0ff" opacity="1"/>
<g fill="#7d55c4"><circle cx="22.600" cy="10.700" r="1"/><circle cx="34.100" cy="14.300" r="1"/><circle cx="37" cy="27.400" r=".9"/><circle cx="20.400" cy="31" r="1.100"/><circle cx="12.800" cy="33.600" r=".8"/></g></svg></div>
<span class="col" style="left:79.90px;top:21.80px;letter-spacing:-0.456px">Consumables</span>
<span class="nm" style="left:79.90px;top:41.10px;letter-spacing:-1.209px">Essence of Starlight</span>
<svg class="tok" viewBox="0 0 12 12"><rect width="12" height="12" rx="2.400" fill="#d20c1a"/><path d="M7.450 1.600 8.150 4.950 10.100 6 8.150 7.050 7.450 10.400 6.750 7.050 4.800 6 6.750 4.950Z" fill="#fff"/><path d="M4.350 2.100 4.800 3.050 5.750 3.500 4.800 3.950 4.350 4.900 3.900 3.950 2.950 3.500 3.900 3.050Z" fill="#fff"/><path d="M2.900 6.900 3.350 7.850 4.300 8.300 3.350 8.750 2.900 9.700 2.450 8.750 1.500 8.300 2.450 7.850Z" fill="#fff" opacity=".85"/></svg>
<span class="pr" style="left:364.10px;top:29.95px;letter-spacing:1.763px">0.047</span>
<span class="usd" style="left:411.00px;top:32.01px;letter-spacing:-0.657px">($0.03)</span>
<div class="badge"><svg viewBox="0 0 24 24" fill="none" stroke="#22c55e" stroke-width="2.300" stroke-linecap="round" stroke-linejoin="round"><path d="M12 8c-1.657 0-3 .895-3 2s1.343 2 3 2 3 .895 3 2-1.343 2-3 2m0-8c1.110 0 2.080.402 2.599 1M12 8V7m0 1v8m0 0v1m0-1c-1.110 0-2.080-.402-2.599-1M21 12a9 9 0 11-18 0 9 9 0 0118 0z"/></svg><span style="left:24.80px;top:1.91px;letter-spacing:-0.724px">Sale</span></div>
<span class="q" style="left:641.80px;top:30.22px;letter-spacing:-0.664px">400</span>
<span class="s" style="left:721.70px;top:30.22px;letter-spacing:-1.156px">0x3B3a...4371</span>
<span class="b" style="left:882.90px;top:30.22px;letter-spacing:-1.039px">0x9994...c229</span>
<span class="t" style="left:1042.80px;top:30.22px;letter-spacing:-0.783px">25 minutes ago</span>
<svg class="ext" style="left:1158.3px" viewBox="0 0 24 24" fill="none" stroke="#1f2937" stroke-width="2.400" stroke-linecap="round" stroke-linejoin="round"><path d="M10 6H6a2 2 0 00-2 2v10a2 2 0 002 2h10a2 2 0 002-2v-4M14 4h6m0 0v6m0-6L10 14"/></svg>
</div>

<div class="toast"></div>
</body>
</html>
